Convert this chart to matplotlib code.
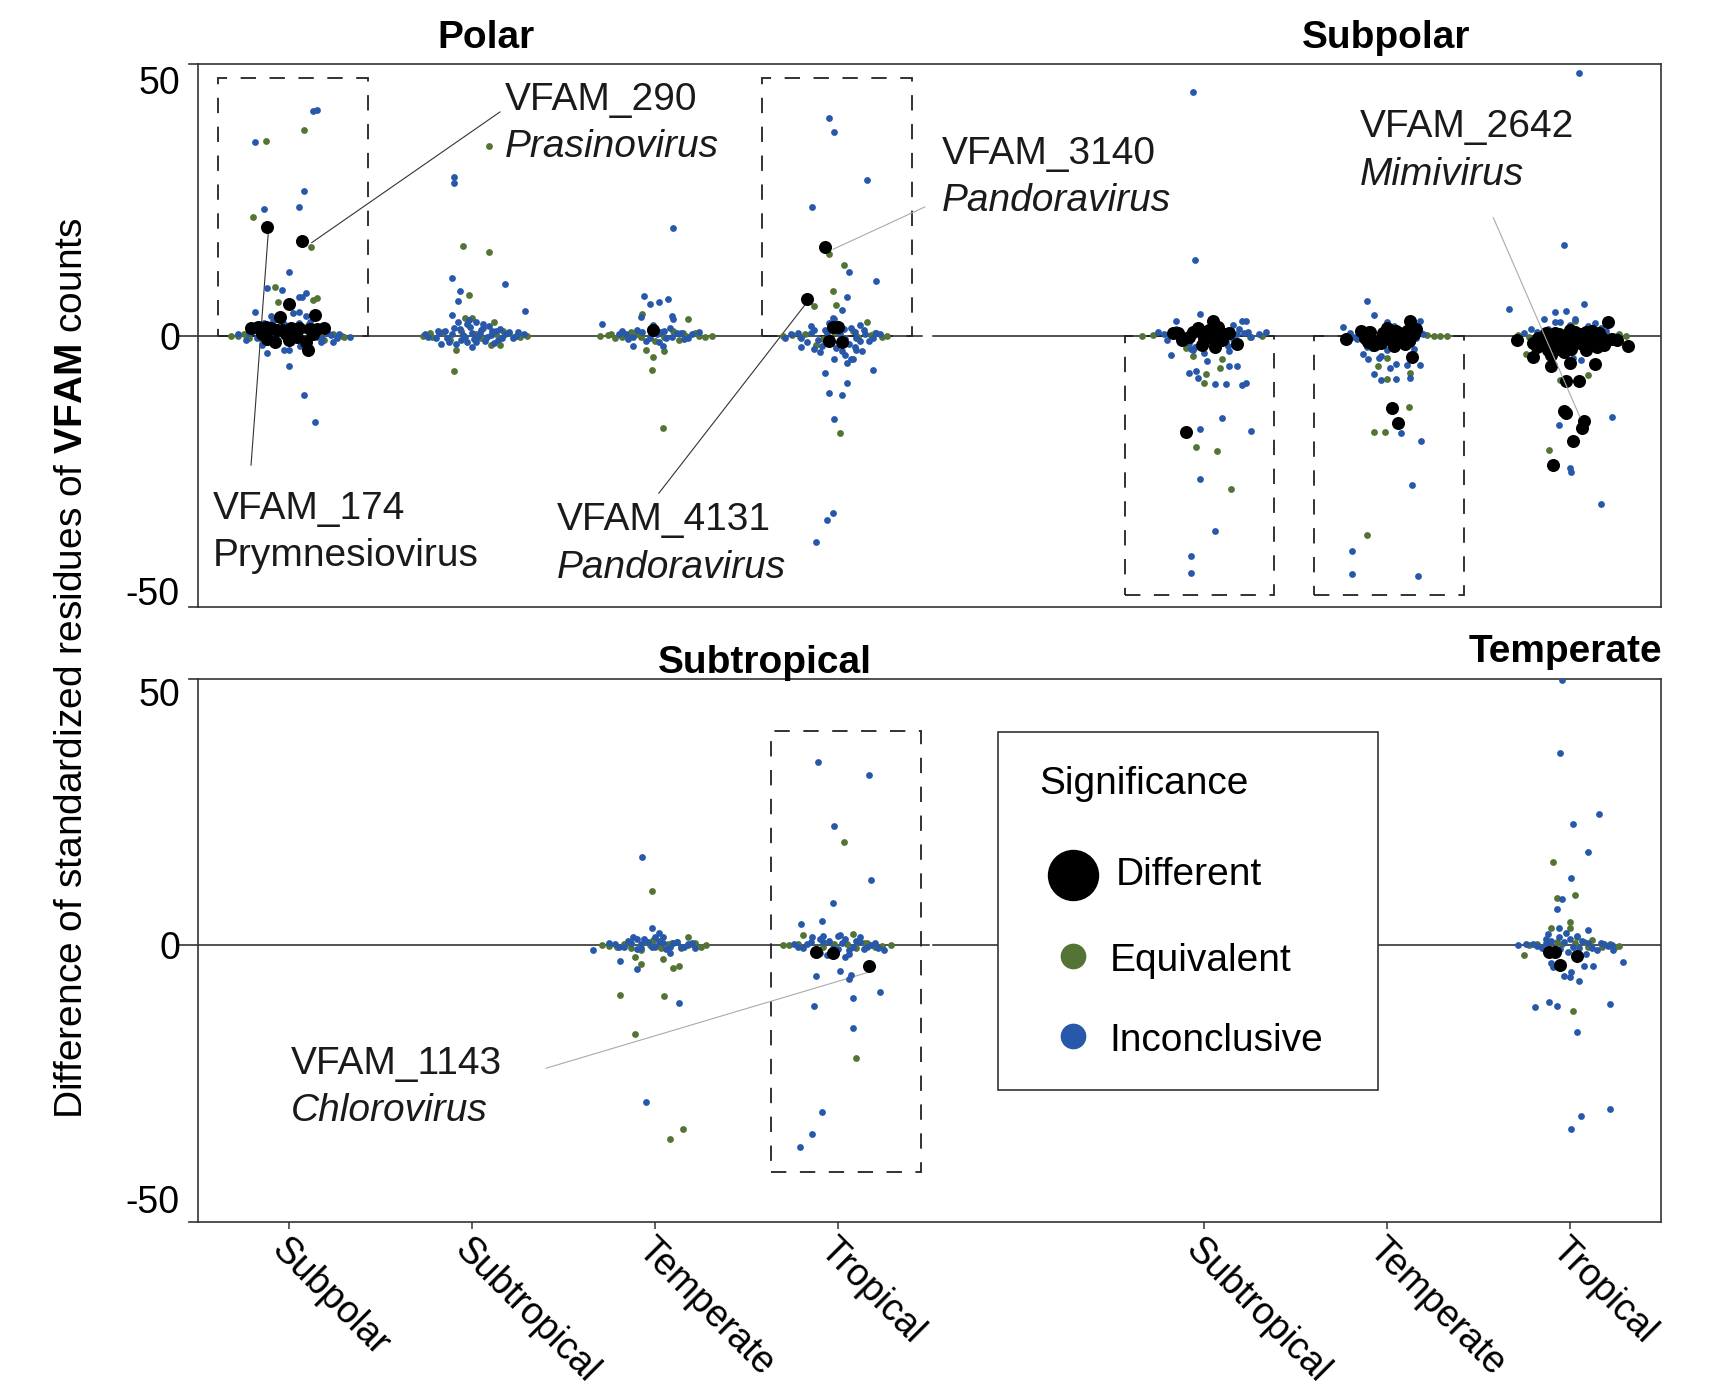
import matplotlib
matplotlib.use("Agg")
import matplotlib.pyplot as plt
from matplotlib.patches import Rectangle

plt.rcParams['font.family'] = ['Liberation Sans', 'DejaVu Sans']
plt.rcParams['mathtext.fontset'] = 'custom'
plt.rcParams['mathtext.rm'] = 'Liberation Sans'
plt.rcParams['mathtext.bf'] = 'Liberation Sans:bold'
plt.rcParams['mathtext.it'] = 'Liberation Sans:italic'

# x positions of the comparisons and their labels
tick_pos = [1, 2, 3, 4, 6, 7, 8]
tick_labels = ['Subpolar', 'Subtropical', 'Temperate', 'Tropical',
               'Subtropical', 'Temperate', 'Tropical']

# ---- data: (jitter offset, difference of standardized residues) ----
# top panel, Polar facet
polar_subpolar_inc = [(0.13,44.0),(0.15,44.1),(-0.19,37.9),(0.08,28.3),(0.05,25.2),(-0.14,24.8),(0.0,12.4),
    (-0.12,9.3),(-0.04,8.9),(0.09,8.4),(0.07,7.6),(0.05,7.5),(-0.19,4.6),(-0.10,3.9),(0.05,4.7),(0.02,4.5),
    (0.09,3.9),(0.05,2.4),(-0.03,2.3),(-0.14,2.4),(-0.16,2.3),(-0.12,-3.4),(0.0,-2.9),(-0.03,-2.9),(0.0,-5.9),
    (0.08,-11.6),(0.14,-16.9),(0.33,-0.2),(0.23,0.1),(-0.24,-0.9),(-0.28,0.2),(-0.2,0.8),(-0.08,-0.5),
    (0.12,0.6),(0.18,-0.7),(0.27,0.3),(-0.02,1.2),(0.1,-1.5),(-0.15,-1.8),(0.2,1.5),(0.15,-0.3),(-0.05,0.4),
    (0.06,-2.0),(-0.1,1.8),(0.24,-1.2),(0.04,0.9),(-0.18,-0.4),(-0.22,0.4),(-0.17,-0.2),(-0.11,0.9),
    (-0.06,-1.1),(0.0,0.3),(0.03,-0.7),(0.08,1.1),(0.14,0.9),(0.17,-1.3),(0.21,0.5),(0.26,-0.5),(-0.09,2.8),
    (0.11,2.7)]
polar_subpolar_equ = [(0.08,40.3),(-0.13,38.2),(-0.2,23.3),(0.12,17.4),(-0.08,9.5),(-0.06,6.6),(0.15,7.4),
    (0.13,6.9),(-0.32,0.0),(-0.28,0.0),(0.29,0.0),(0.24,0.2),(-0.22,-0.5),(0.19,-0.8),(-0.25,0.3),(0.0,1.0),
    (0.1,2.0),(-0.14,-1.2),(0.3,-0.3)]
polar_subpolar_dif = [(-0.12,21.2),(0.07,18.5),(0.0,6.1),(-0.05,3.7),(0.14,4.1),(-0.21,1.4),(-0.17,1.7),
    (-0.13,1.7),(-0.1,1.5),(-0.07,1.0),(-0.04,1.0),(0.01,1.4),(0.05,1.4),(0.11,1.3),(0.15,1.3),(0.19,1.5),
    (-0.08,-1.3),(-0.12,-0.6),(0.0,-0.9),(0.09,-1.2),(0.1,-2.9),(-0.15,0.3),(-0.02,0.2),(0.04,-0.3),(0.13,0.2)]

polar_subtropical_inc = [(-0.1,31.0),(-0.1,29.8),(-0.11,11.3),(0.18,10.1),(-0.07,8.7),(-0.08,6.7),(-0.11,4.0),
    (0.29,4.8),(-0.17,-1.7),(-0.26,0.2),(-0.2,-0.5),(-0.15,0.9),(-0.1,1.5),(-0.06,-0.8),(-0.03,2.2),(0.0,0.4),
    (0.02,-1.3),(0.05,1.1),(0.08,-0.3),(0.11,0.8),(0.14,-0.9),(0.18,0.3),(0.22,-0.4),(0.25,0.6),(-0.13,-1.3),
    (-0.02,3.1),(0.0,-2.2),(-0.08,2.6),(0.06,2.3),(-0.18,0.5),(0.28,0.2),(0.03,0.0),(-0.05,0.1),(0.09,1.8),
    (0.15,1.3),(-0.24,-0.3),(-0.19,0.8),(-0.14,-0.4),(-0.11,0.3),(-0.07,1.2),(-0.04,-0.3),(-0.01,1.6),
    (0.01,-0.6),(0.04,0.5),(0.07,-1.0),(0.1,0.1),(0.13,0.9),(0.16,-0.5),(0.2,0.7),(0.24,-0.1),(-0.09,-1.7),
    (0.02,2.6),(-0.03,-1.2),(0.06,1.5),(0.12,-1.4)]
polar_subtropical_equ = [(0.09,37.2),(-0.05,17.6),(0.09,16.3),(-0.02,8.0),(0.0,3.5),(-0.04,3.5),(0.12,2.6),
    (-0.09,-2.9),(-0.1,-6.9),(0.1,-1.9),(0.15,-1.9),(-0.27,0.0),(-0.22,-0.3),(0.3,0.0),(0.26,-0.2),(0.2,0.4),
    (-0.16,0.6),(0.05,-0.5),(-0.06,0.8),(0.13,0.2),(-0.23,0.4),(0.23,-0.3),(0.17,0.9),(-0.12,-0.9),(0.02,0.3)]
polar_subtropical_dif = []

polar_temperate_inc = [(0.10,21.0),(-0.06,7.8),(0.07,7.1),(-0.03,6.1),(0.02,6.5),(-0.08,3.6),(0.09,3.8),
    (0.1,3.3),(-0.29,2.2),(-0.12,-2.0),(-0.2,0.3),(-0.15,-0.6),(-0.1,1.0),(-0.05,-1.0),(0.03,0.7),(0.06,-0.4),
    (0.12,0.5),(0.16,-0.7),(0.2,0.2),(-0.01,2.0),(0.04,-2.1),(-0.18,0.9),(0.24,0.6),(0.08,1.5),(-0.16,0.2),
    (-0.12,-0.3),(-0.07,0.6),(-0.03,-0.5),(0.01,0.3),(0.05,0.9),(0.09,-0.2),(0.14,0.4),(0.18,-0.4),
    (-0.03,1.3),(0.02,-1.3)]
polar_temperate_equ = [(-0.07,4.3),(0.18,3.2),(-0.05,-2.8),(0.05,-3.1),(-0.01,-4.3),(-0.02,-6.7),(0.04,-18.2),
    (-0.3,0.0),(-0.26,0.1),(0.31,0.0),(0.27,-0.2),(-0.22,-0.5),(0.22,0.4),(-0.13,0.6),(0.13,-0.8),(-0.08,-0.2),
    (0.1,0.9),(0.0,-1.0),(-0.18,-0.3),(0.17,-0.1),(-0.24,0.2),(0.24,-0.1),(0.15,0.5),(-0.1,0.2),(0.05,-0.3)]
polar_temperate_dif = [(-0.01,1.0)]

polar_tropical_inc = [(-0.05,42.6),(-0.02,39.9),(0.16,30.5),(-0.14,25.2),(0.06,12.5),(0.21,10.7),(0.05,7.5),
    (0.02,5.0),(-0.03,3.4),(-0.02,3.3),(-0.07,-7.3),(0.05,-9.3),(0.19,-6.8),(-0.05,-11.2),(0.02,-11.7),
    (-0.02,-16.4),(0.07,-4.6),(0.08,-4.7),(0.1,-2.9),(-0.03,-34.8),(-0.06,-36.2),(-0.12,-40.4),(-0.29,-0.5),
    (-0.22,0.5),(-0.17,-1.2),(-0.13,1.0),(-0.09,-2.0),(-0.06,0.4),(-0.01,-2.5),(0.03,1.2),(0.06,-1.6),(0.09,0.6),
    (0.12,-1.0),(0.15,0.3),(0.19,-0.4),(0.23,0.2),(-0.2,-2.2),(0.0,2.1),(-0.1,-3.3),(0.13,-3.0),(0.04,-3.8),
    (-0.15,1.8),(-0.26,0.2),(-0.2,-0.5),(-0.15,0.4),(-0.11,-0.9),(-0.07,1.1),(-0.04,-1.4),(0.01,0.2),
    (0.04,-0.6),(0.07,1.5),(0.1,-0.4),(0.14,1.0),(0.17,-1.1),(0.21,0.5),(-0.13,-2.6),(0.02,-3.0),(0.09,-2.2),
    (-0.05,2.5),(0.12,2.0),(-0.02,-4.6),(0.05,-5.4)]
polar_tropical_equ = [(-0.05,15.9),(0.03,13.9),(-0.03,8.7),(-0.01,5.9),(-0.13,5.8),(0.16,2.7),(0.01,-19.2),
    (-0.3,0.0),(-0.25,0.1),(0.27,0.0),(0.24,-0.2),(-0.18,0.3),(0.2,0.4),(-0.08,-0.6),(0.08,0.8),(0.11,-0.3),
    (-0.12,-1.9),(-0.21,-0.2),(0.18,0.1),(-0.02,0.6)]
polar_tropical_dif = [(-0.07,17.3),(-0.17,7.1),(-0.03,1.7),(0.0,1.7),(-0.05,-1.1),(0.02,-1.2)]

# top panel, Subpolar facet
subpolar_subtropical_inc = [(-0.06,47.8),(-0.05,14.7),(-0.02,4.2),(-0.15,2.9),(0.21,2.9),(0.23,2.9),(0.34,0.7),
    (-0.18,-3.8),(-0.07,-2.7),(-0.05,-2.3),(0.02,-5.0),(0.14,-3.1),(-0.08,-7.3),(-0.04,-6.9),(-0.03,-8.3),
    (0.14,-6.0),(0.18,-6.0),(0.06,-9.6),(0.12,-9.5),(0.21,-9.7),(0.23,-9.3),(0.1,-16.2),(-0.02,-18.3),
    (0.26,-18.8),(-0.02,-28.2),(0.06,-38.4),(-0.07,-43.3),(-0.07,-46.6),(-0.25,0.6),(-0.2,-0.8),(-0.12,0.2),
    (-0.08,-1.5),(0.0,0.8),(0.05,-1.2),(0.1,0.5),(0.16,-0.6),(0.22,0.4),(0.26,-0.3),(0.3,0.2),(-0.15,1.2),
    (0.08,-2.2),(0.19,1.3),(-0.02,1.8),(0.13,-2.0),(-0.22,0.2),(-0.17,0.8),(-0.1,-0.4),(-0.04,0.5),
    (0.03,-0.5),(0.08,0.9),(0.12,-1.3),(0.18,0.2),(0.24,0.6),(-0.06,-2.9),(0.0,-3.4),(0.04,2.0),(0.16,2.1)]
subpolar_subtropical_equ = [(-0.34,0.0),(0.1,-4.7),(0.09,-6.3),(0.01,-7.6),(0.0,-9.3),(-0.06,-4.1),(-0.04,-21.9),
    (0.07,-22.7),(0.15,-30.1),(-0.28,0.1),(0.32,0.0),(0.25,-0.3),(-0.1,-2.5),(0.04,-1.8)]
subpolar_subtropical_dif = [(-0.1,-19.0),(0.05,2.8),(-0.17,0.5),(-0.14,0.5),(-0.12,-0.9),(-0.06,0.7),(-0.01,0.7),
    (0.03,1.0),(0.09,0.7),(0.14,0.5),(-0.01,-1.9),(0.06,-2.2),(0.18,-1.7),(0.0,-0.4),(0.1,-0.8),(-0.08,-0.3),
    (0.05,-0.6),(0.12,0.2),(-0.03,1.5),(0.08,1.6)]

subpolar_temperate_inc = [(-0.11,6.7),(-0.07,4.0),(0.0,2.7),(-0.24,1.6),(0.18,2.9),(-0.13,-3.7),(-0.1,-4.7),
    (-0.04,-4.4),(-0.03,-4.0),(0.05,-5.6),(0.02,-6.3),(0.11,-5.8),(0.18,-5.8),(-0.07,-7.5),(-0.03,-8.7),
    (0.05,-8.5),(0.13,-8.4),(0.08,-19.1),(0.19,-20.6),(0.14,-29.3),(-0.19,-42.2),(-0.19,-46.7),(0.17,-47.2),
    (-0.2,0.5),(-0.16,-0.6),(-0.1,1.2),(-0.05,-1.4),(0.02,0.8),(0.07,-1.0),(0.12,0.4),(0.16,-0.5),(0.2,0.2),
    (-0.08,-2.5),(0.1,-2.2),(0.04,1.9),(-0.18,-0.3),(-0.12,0.8),(-0.06,-0.5),(0.0,0.3),(0.05,-0.4),
    (0.09,0.6),(0.14,-1.2),(0.18,0.6),(-0.11,-2.3),(0.0,-2.8),(0.15,-2.7)]
subpolar_temperate_equ = [(0.12,-14.1),(-0.07,-19.0),(-0.01,-19.0),(-0.11,-39.1),(-0.05,-6.0),(0.0,-4.4),
    (0.0,-8.6),(0.13,-7.3),(0.33,0.0),(0.29,0.0),(0.26,-0.1),(0.22,0.1),(-0.14,0.2)]
subpolar_temperate_dif = [(0.03,-14.2),(0.06,-17.1),(-0.22,-0.7),(0.14,-4.2),(0.13,2.8),(-0.12,-0.4),(-0.09,0.6),
    (-0.05,-1.0),(-0.02,0.4),(0.02,-0.8),(0.05,0.8),(0.08,-0.2),(0.11,0.9),(0.15,0.3),(-0.07,-1.8),(0.04,-2.0),
    (0.1,-1.6),(0.0,1.5),(-0.14,0.9),(-0.1,-1.2),(-0.03,-1.5),(0.01,1.0),(0.07,0.5),(0.12,-1.0),(0.16,1.3),
    (0.13,-0.5)]

subpolar_tropical_inc = [(-0.03,17.7),(0.05,51.5),(-0.33,5.2),(0.08,6.1),(-0.08,4.7),(-0.02,4.8),(-0.14,3.3),
    (-0.08,2.7),(-0.05,2.7),(0.03,3.2),(0.14,2.5),(-0.21,1.2),(0.25,-1.2),(0.26,0.0),(0.23,-15.9),(-0.06,-17.6),
    (0.0,-26.0),(0.01,-26.7),(0.17,-33.1),(-0.25,0.5),(-0.2,-0.6),(0.2,0.8),(0.02,-4.5),(-0.04,-3.5),(0.06,-4.8),
    (-0.18,0.6),(-0.12,1.3),(0.0,2.0),(0.1,1.8),(0.17,1.4),(-0.16,-2.2)]
subpolar_tropical_equ = [(0.31,0.0),(0.22,0.0),(-0.24,-3.7),(0.1,-7.8),(-0.05,-8.8),(-0.11,-22.4),(0.03,2.8),
    (-0.28,0.1),(-0.22,-0.2),(0.27,0.2)]
subpolar_tropical_dif = [(0.21,2.7),(-0.29,-0.9),(0.32,-2.0),(-0.2,-4.2),(-0.1,-5.9),(0.14,-5.6),(-0.02,-8.9),
    (0.05,-8.9),(-0.03,-14.8),(-0.02,-15.1),(0.08,-16.8),(0.07,-18.2),(0.02,-20.7),(-0.09,-25.4),(0.0,-5.4),
    (-0.1,-3.9),(-0.13,0.4),(-0.08,0.4),(0.0,1.0),(0.09,0.7),(0.16,0.4),(-0.15,-1.6),(-0.09,-1.9),(-0.04,-1.3),
    (0.04,-0.9),(0.11,-0.9),(0.15,-2.2),(0.19,-1.9),(-0.12,-2.9),(-0.03,-3.2),(-0.18,-2.2),(0.06,0.2),
    (-0.01,-0.5),(0.12,0.9),(-0.17,-0.5),(-0.11,-0.8),(-0.06,0.2),(-0.02,-1.9),(0.03,0.6),(0.07,-1.6),
    (0.1,0.2),(0.13,-1.3),(0.18,-0.4),(0.23,-0.6),(-0.07,-2.6),(0.01,-2.6),(0.09,-2.9),(-0.2,-1.5),(0.26,-0.9)]

# bottom panel, Subtropical facet and Temperate facet
subtropical_temperate_inc = [(-0.07,17.4),(-0.02,3.4),(0.02,2.4),(-0.34,-0.9),(-0.19,-3.0),(-0.10,-4.6),
    (0.13,-11.4),(-0.05,-30.9),(-0.25,0.5),(-0.2,-0.3),(-0.15,0.8),(-0.1,-0.7),(-0.06,1.3),(-0.02,-0.4),
    (0.02,0.9),(0.06,-0.8),(0.1,0.5),(0.14,-0.3),(0.18,0.3),(0.22,-0.6),(-0.08,0.2),(0.04,1.6),(-0.12,1.6),
    (0.08,-1.4),(-0.22,0.2),(-0.17,-0.4),(-0.13,0.4),(-0.08,-0.6),(-0.04,0.7),(0.0,-0.2),(0.04,0.4),
    (0.08,-0.3),(0.12,0.6),(0.16,-0.4),(0.2,0.5),(-0.1,1.2),(0.0,1.6)]
subtropical_temperate_equ = [(-0.02,10.8),(0.18,1.7),(0.04,-2.7),(0.1,-4.5),(0.13,-4.1),(-0.08,-3.7),
    (-0.11,-2.3),(-0.19,-9.7),(0.05,-9.9),(-0.11,-17.5),(0.15,-36.1),(0.08,-38.2),(-0.29,0.0),(-0.25,-0.1),
    (0.28,0.0),(0.25,-0.3),(0.2,0.3),(-0.17,0.2),(-0.05,0.6),(0.0,-0.3),(0.12,0.7),(-0.13,-0.5),(0.07,0.2),
    (-0.21,-0.3),(-0.15,0.5),(-0.08,-0.9),(-0.03,0.1),(0.03,-0.6),(0.09,0.4),(0.14,-0.6),(0.18,0.1),
    (0.22,0.4),(-0.01,1.1)]
subtropical_temperate_dif = []

subtropical_tropical_inc = [(-0.11,36.2),(0.17,33.6),(-0.02,23.6),(0.18,12.8),(-0.03,8.4),(-0.2,4.3),(-0.09,4.8),
    (0.01,2.1),(-0.14,1.7),(-0.08,1.9),(-0.12,-6.1),(0.01,-5.0),(0.07,-5.9),(0.06,-6.6),(0.23,-9.1),(0.08,-10.3),
    (-0.13,-11.9),(0.08,-16.3),(-0.09,-32.9),(-0.14,-37.1),(-0.21,-39.8),(-0.24,0.2),(-0.19,-0.6),(-0.15,0.6),
    (-0.1,-1.5),(-0.05,0.9),(0.0,-0.8),(0.04,1.2),(0.08,-0.4),(0.12,0.7),(0.16,-0.3),(0.2,0.4),(0.25,-0.9),
    (-0.06,-1.8),(0.06,-1.7),(-0.22,-0.4),(-0.17,0.3),(-0.12,-0.7),(-0.08,0.6),(-0.03,-0.5),(0.02,0.4),
    (0.06,-0.9),(0.1,0.9),(0.14,-0.8),(0.18,0.1),(0.22,-0.5),(-0.1,1.3),(0.0,1.9),(0.04,-2.3),(0.12,1.6)]
subtropical_tropical_equ = [(0.03,20.3),(-0.19,2.0),(0.08,2.3),(0.10,-22.2),(-0.3,0.0),(-0.27,0.1),(0.29,0.0),
    (0.24,-0.2),(0.14,0.4),(-0.02,0.3),(0.1,-0.6),(-0.22,0.3),(0.2,-0.3),(0.16,0.5),(-0.08,-0.4),(0.05,0.2)]
subtropical_tropical_dif = [(-0.12,-1.3),(-0.03,-1.4),(0.17,-4.0)]

temperate_tropical_inc = [(-0.04,52.4),(-0.05,38.0),(0.16,25.8),(0.02,23.9),(0.10,18.4),(0.01,13.2),(-0.04,9.1),
    (-0.07,7.2),(0.10,3.1),(-0.06,3.4),(-0.12,2.2),(0.29,-3.2),(0.24,-0.9),(0.08,-4.0),(0.13,-4.0),(0.01,-5.3),
    (0.0,-6.3),(-0.03,-6.0),(0.05,-7.1),(-0.10,-3.4),(-0.09,-4.3),(-0.11,-11.1),(-0.19,-12.2),(-0.07,-12.0),
    (0.22,-11.6),(0.04,-17.1),(0.22,-32.3),(0.06,-33.6),(0.01,-36.1),(-0.28,0.0),(-0.2,0.3),(-0.15,-0.5),
    (-0.1,0.8),(-0.05,-0.8),(0.0,1.2),(0.05,-0.6),(0.1,0.5),(0.15,-0.9),(0.19,0.2),(0.23,0.1),(-0.02,2.5),
    (0.03,-2.0),(-0.13,1.3),(-0.24,0.3),(-0.18,-0.2),(-0.13,0.5),(-0.08,-0.5),(-0.03,0.6),(0.02,-0.3),
    (0.07,0.8),(0.12,-0.5),(0.17,0.4),(0.21,-0.2),(-0.06,1.6),(0.04,1.9),(0.09,-1.7),(-0.01,-1.2)]
temperate_tropical_equ = [(-0.09,16.4),(-0.07,9.3),(0.03,9.9),(0.0,4.7),(-0.1,3.4),(0.0,3.4),(0.04,1.7),
    (0.12,1.1),(-0.25,-1.8),(0.02,-12.9),(0.27,-0.2),(0.25,-0.3),(-0.22,0.1),(0.18,-0.4),(-0.12,-0.6),
    (0.08,0.6),(-0.04,0.3),(-0.18,0.3),(0.22,0.2),(0.1,-0.3),(-0.07,0.7),(0.03,0.4)]
temperate_tropical_dif = [(-0.11,-1.3),(-0.08,-1.3),(0.04,-2.0),(-0.05,-3.9)]

# colours and point sizes
col_dif = '#000000'
col_equ = '#537434'
col_inc = '#2858A9'
s_small = 24
s_big = 88

top_groups = [
    (1, polar_subpolar_inc, polar_subpolar_equ, polar_subpolar_dif),
    (2, polar_subtropical_inc, polar_subtropical_equ, polar_subtropical_dif),
    (3, polar_temperate_inc, polar_temperate_equ, polar_temperate_dif),
    (4, polar_tropical_inc, polar_tropical_equ, polar_tropical_dif),
    (6, subpolar_subtropical_inc, subpolar_subtropical_equ, subpolar_subtropical_dif),
    (7, subpolar_temperate_inc, subpolar_temperate_equ, subpolar_temperate_dif),
    (8, subpolar_tropical_inc, subpolar_tropical_equ, subpolar_tropical_dif),
]
bottom_groups = [
    (3, subtropical_temperate_inc, subtropical_temperate_equ, subtropical_temperate_dif),
    (4, subtropical_tropical_inc, subtropical_tropical_equ, subtropical_tropical_dif),
    (8, temperate_tropical_inc, temperate_tropical_equ, temperate_tropical_dif),
]

W, H = 1722, 1389
fig = plt.figure(figsize=(W / 100, H / 100), dpi=100)
ax1 = fig.add_axes([198 / W, 1 - 607 / H, 1463 / W, 543 / H])
ax2 = fig.add_axes([198 / W, 1 - 1222 / H, 1463 / W, 543 / H])
ax1.set_ylim(-53.2, 53.2)
ax2.set_ylim(-54.5, 52.5)

line_col = '#222222'


def draw_points(ax, groups):
    for pos, inc, equ, dif in groups:
        for pts, c, s, z in [(equ, col_equ, s_small, 3), (inc, col_inc, s_small, 3.5), (dif, col_dif, s_big, 4)]:
            if pts:
                ax.scatter([pos + p[0] for p in pts], [p[1] for p in pts], s=s, c=c,
                           linewidths=0, zorder=z)


for ax in (ax1, ax2):
    ax.set_xlim(0.5, 8.5)
    ax.set_yticks([50, 0, -50])
    ax.set_yticklabels(['50', '0', '-50'])
    ax.tick_params(axis='y', length=0, pad=13, labelsize=27)
    for sp in ax.spines.values():
        sp.set_color('#333333')
        sp.set_linewidth(1.2)
    y0, y1 = ax.get_ylim()
    # short stubs left of the frame corners
    ax.plot([0.45, 0.5], [y1, y1], color='#333333', lw=1.2, clip_on=False)
    ax.plot([0.45, 0.5], [y0, y0], color='#333333', lw=1.2, clip_on=False)

draw_points(ax1, top_groups)
draw_points(ax2, bottom_groups)

# zero lines (two facets pasted side by side)
ax1.plot([0.385, 4.457], [0, 0], color=line_col, lw=1.1, clip_on=False, zorder=1)
ax1.plot([4.519, 8.5], [0, 0], color=line_col, lw=1.1, zorder=1)
ax2.plot([0.385, 4.498], [0, 0], color=line_col, lw=1.1, clip_on=False, zorder=1)
ax2.plot([4.52, 8.5], [0, 0], color=line_col, lw=1.1, zorder=1)

# dashed boxes
dash = (0, (8.5, 7.5))
for ax, (xa, xb, ya, yb) in [(ax1, (0.611, 1.431, 0, 50.4)), (ax1, (3.585, 4.402, 0, 50.4)),
                             (ax1, (5.567, 6.385, -50.8, 0)), (ax1, (6.605, 7.423, -50.8, 0)),
                             (ax2, (3.633, 4.453, -44.7, 42.2))]:
    ax.add_patch(Rectangle((xa, ya), xb - xa, yb - ya, fill=False, ls=dash, lw=1.3,
                           ec=line_col, zorder=1.5))

# x axis
ax1.tick_params(axis='x', length=0, labelbottom=False)
ax2.set_xticks(tick_pos)
ax2.set_xticklabels(tick_labels)
ax2.tick_params(axis='x', length=5, width=1.1, color='#333333', pad=2, labelsize=27)
plt.setp(ax2.get_xticklabels(), rotation=-45, ha='left', va='top', rotation_mode='anchor')

# annotations
fs = 28
ax1.plot([2.151, 1.122], [43.8, 18.2], color='#333333', lw=0.8, zorder=2)
ax1.text(2.179, 44.2, 'VFAM_290', fontsize=fs, color='#1a1a1a')
ax1.text(2.179, 34.9, 'Prasinovirus', fontsize=fs, style='italic', color='#1a1a1a')

ax1.plot([0.884, 0.79], [20.0, -25.4], color='#333333', lw=0.8, zorder=2)
ax1.text(0.582, -36.0, 'VFAM_174', fontsize=fs, color='#1a1a1a')
ax1.text(0.582, -45.2, 'Prymnesiovirus', fontsize=fs, color='#1a1a1a')

ax1.plot([3.02, 3.842], [-30.9, 7.06], color='#333333', lw=0.8, zorder=2)
ax1.text(2.463, -38.1, 'VFAM_4131', fontsize=fs, color='#1a1a1a')
ax1.text(2.463, -47.5, 'Pandoravirus', fontsize=fs, style='italic', color='#1a1a1a')

ax1.plot([4.475, 3.973], [25.2, 16.9], color='#aaaaaa', lw=0.8, zorder=2)
ax1.text(4.565, 33.6, 'VFAM_3140', fontsize=fs, color='#1a1a1a')
ax1.text(4.565, 24.3, 'Pandoravirus', fontsize=fs, style='italic', color='#1a1a1a')

ax1.plot([7.583, 8.057], [23.1, -16.0], color='#aaaaaa', lw=0.8, zorder=5)
ax1.text(6.853, 38.8, 'VFAM_2642', fontsize=fs, color='#1a1a1a')
ax1.text(6.853, 29.5, 'Mimivirus', fontsize=fs, style='italic', color='#1a1a1a')

ax2.plot([2.403, 4.174], [-24.2, -5.2], color='#aaaaaa', lw=0.8, zorder=2)
ax2.text(1.007, -25.3, 'VFAM_1143', fontsize=fs, color='#1a1a1a')
ax2.text(1.007, -34.5, 'Chlorovirus', fontsize=fs, style='italic', color='#1a1a1a')

# facet titles
fig.text(485.5 / W, 1 - 48.3 / H, 'Polar', fontsize=fs, weight='bold', ha='center', va='baseline')
fig.text(1386 / W, 1 - 48.3 / H, 'Subpolar', fontsize=fs, weight='bold', ha='center', va='baseline')
fig.text(765 / W, 1 - 673 / H, 'Subtropical', fontsize=fs, weight='bold', ha='center', va='baseline')
fig.text(1662 / W, 1 - 662 / H, 'Temperate', fontsize=fs, weight='bold', ha='right', va='baseline')

# y label
fig.text(71.7 / W, 1 - 668 / H, r'Difference of standardized residues of $\mathbf{VFAM}$ counts',
         rotation=90, ha='center', va='center', fontsize=fs)

# legend box
ax2.add_patch(Rectangle((4.874, -28.46), 6.952 - 4.874, 42.15 + 28.46, facecolor='white',
                        edgecolor='#333333', lw=1.2, zorder=8))
ax2.text(5.098, 29.9, 'Significance', fontsize=fs, zorder=9)
ax2.plot([5.286], [13.8], 'o', ms=37, color=col_dif, mec='none', zorder=9)
ax2.plot([5.286], [-2.0], 'o', ms=18.5, color=col_equ, mec='none', zorder=9)
ax2.plot([5.286], [-17.8], 'o', ms=18.5, color=col_inc, mec='none', zorder=9)
ax2.text(5.519, 12.0, 'Different', fontsize=fs, zorder=9)
ax2.text(5.486, -5.1, 'Equivalent', fontsize=fs, zorder=9)
ax2.text(5.486, -20.9, 'Inconclusive', fontsize=fs, zorder=9)

fig.savefig('out.png', dpi=100, facecolor='white')
